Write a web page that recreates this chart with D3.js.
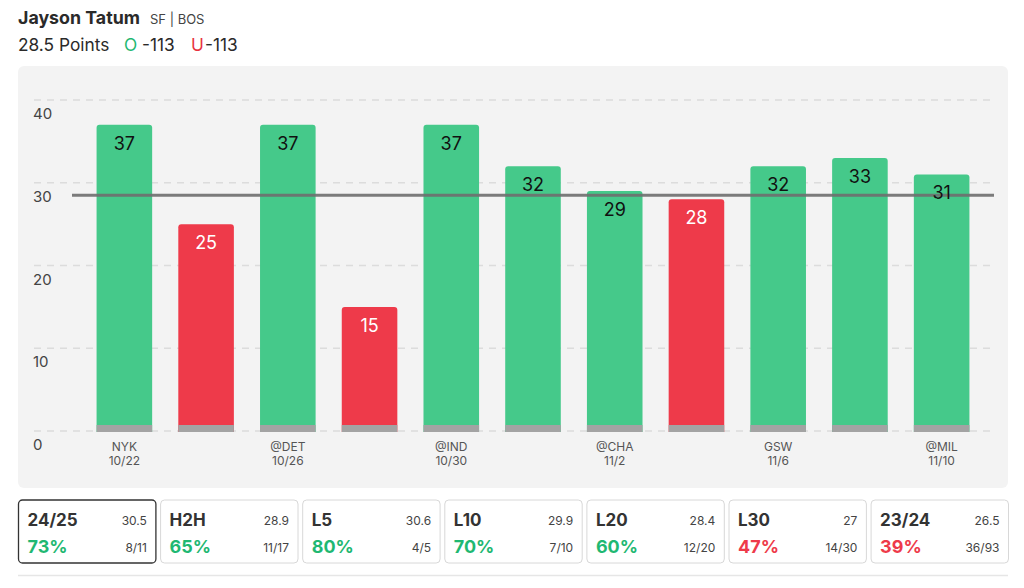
<!DOCTYPE html>
<html><head><meta charset="utf-8">
<script src="https://cdn.jsdelivr.net/npm/d3@7"></script>
<style>
html,body{margin:0;padding:0;background:#fff;}
svg{display:block;font-family:Inter, "Noto Sans", sans-serif;}
</style></head>
<body>
<svg id="chart" width="1024" height="588"></svg>
<script>
const opponents = ["NYK","","@DET","","@IND","","@CHA","","GSW","","@MIL"];
const dates = ["10/22","","10/26","","10/30","","11/2","","11/6","","11/10"];
const points = [37,25,37,15,37,32,29,28,32,33,31];
const line = 28.5;
const yTicks = [0,10,20,30,40];
const cardTitles = ["24/25","H2H","L5","L10","L20","L30","23/24"];
const cardAvgs = ["30.5","28.9","30.6","29.9","28.4","27","26.5"];
const cardPcts = [73,65,80,70,60,47,39];
const cardFracs = ["8/11","11/17","4/5","7/10","12/20","14/30","36/93"];

const GREEN = "#45c98a", RED = "#ee3a4a", PCT_GREEN = "#1fb872", PCT_RED = "#ee3a4a";
const svg = d3.select("#chart");

// Header
const h = svg.append("g");
h.append("text").attr("x",18).attr("y",24).attr("font-size",17.8).attr("font-weight",700).attr("fill","#2a2a2a").text("Jayson Tatum");
h.append("text").attr("x",150).attr("y",24).attr("font-size",13).attr("fill","#444").text("SF | BOS");
const t2 = h.append("text").attr("x",18).attr("y",51).attr("font-size",17.3).attr("fill","#2a2a2a");
t2.append("tspan").text("28.5 Points");
t2.append("tspan").attr("x",124).attr("fill","#1fb872").text("O");
t2.append("tspan").attr("x",142).text("-113");
t2.append("tspan").attr("x",191).attr("fill","#e8323f").text("U");
t2.append("tspan").attr("x",205).text("-113");

// Panel
svg.append("rect").attr("x",18).attr("y",66).attr("width",990).attr("height",422).attr("rx",6).attr("fill","#f3f3f3");

const y = d3.scaleLinear().domain([0,40]).range([431,100]);
const x = d3.scaleBand().domain(points.map((d,i)=>i)).range([83.5,982.5]).paddingInner(0.32).paddingOuter(0.16);

// gridlines
svg.append("g").selectAll("line").data(yTicks).join("line")
  .attr("x1",34).attr("x2",994).attr("y1",d=>y(d)).attr("y2",d=>y(d))
  .attr("stroke","#dcdcdc").attr("stroke-width",1.5).attr("stroke-dasharray","7,6");
// y labels
svg.append("g").selectAll("text").data(yTicks).join("text")
  .attr("x",33).attr("y",d=>y(d)+19).attr("font-size",15).attr("fill","#444").text(d=>d);

// bars
const bars = svg.append("g");
points.forEach((v,i)=>{
  const bx = x(i), bw = x.bandwidth(), top = y(v), bot = y(0)+1;
  const r = 3;
  const col = v > line ? GREEN : RED;
  bars.append("path").attr("fill",col)
    .attr("d",`M${bx},${bot}V${top+r}Q${bx},${top} ${bx+r},${top}H${bx+bw-r}Q${bx+bw},${top} ${bx+bw},${top+r}V${bot}Z`);
  bars.append("rect").attr("x",bx).attr("y",bot-7).attr("width",bw).attr("height",7).attr("fill","#a3a3a3");
});

// line
svg.append("line").attr("x1",72).attr("x2",994).attr("y1",y(line)).attr("y2",y(line))
  .attr("stroke","#6e6e6e").attr("stroke-opacity",0.9).attr("stroke-width",3);

// value labels
svg.append("g").selectAll("text").data(points).join("text")
  .attr("x",(d,i)=>x(i)+x.bandwidth()/2).attr("y",d=>y(d)+25)
  .attr("text-anchor","middle").attr("font-size",18)
  .attr("fill",d=>d>line?"#111":"#fff").text(d=>d);

// x labels
const xl = svg.append("g");
opponents.forEach((o,i)=>{
  if(!o) return;
  const cx = x(i)+x.bandwidth()/2;
  xl.append("text").attr("x",cx).attr("y",451).attr("text-anchor","middle").attr("font-size",12).attr("fill","#555").text(o);
  xl.append("text").attr("x",cx).attr("y",465).attr("text-anchor","middle").attr("font-size",12).attr("fill","#555").text(dates[i]);
});

// cards
const cw = 137.4, gap = 4.7, cx0 = 18.5;
cardTitles.forEach((t,i)=>{
  const gx = cx0 + i*(cw+gap);
  const g = svg.append("g").attr("transform",`translate(${gx},500)`);
  g.append("rect").attr("width",cw).attr("height",63).attr("rx",4).attr("fill","#fff")
    .attr("stroke", i===0?"#333":"#d8d8d8").attr("stroke-width", i===0?1.3:1);
  g.append("text").attr("x",9).attr("y",26).attr("font-size",17).attr("font-weight",700).attr("fill","#333").text(t);
  g.append("text").attr("x",cw-9).attr("y",25).attr("text-anchor","end").attr("font-size",12).attr("fill","#444").text(cardAvgs[i]);
  g.append("text").attr("x",9).attr("y",53).attr("font-size",18).attr("font-weight",700)
    .attr("fill",cardPcts[i]>=50?PCT_GREEN:PCT_RED).text(cardPcts[i]+"%");
  g.append("text").attr("x",cw-9).attr("y",52).attr("text-anchor","end").attr("font-size",12).attr("fill","#444").text(cardFracs[i]);
});
svg.append("line").attr("x1",18).attr("x2",1008).attr("y1",575.5).attr("y2",575.5).attr("stroke","#e6e6e6").attr("stroke-width",1.5);
</script>
</body></html>
